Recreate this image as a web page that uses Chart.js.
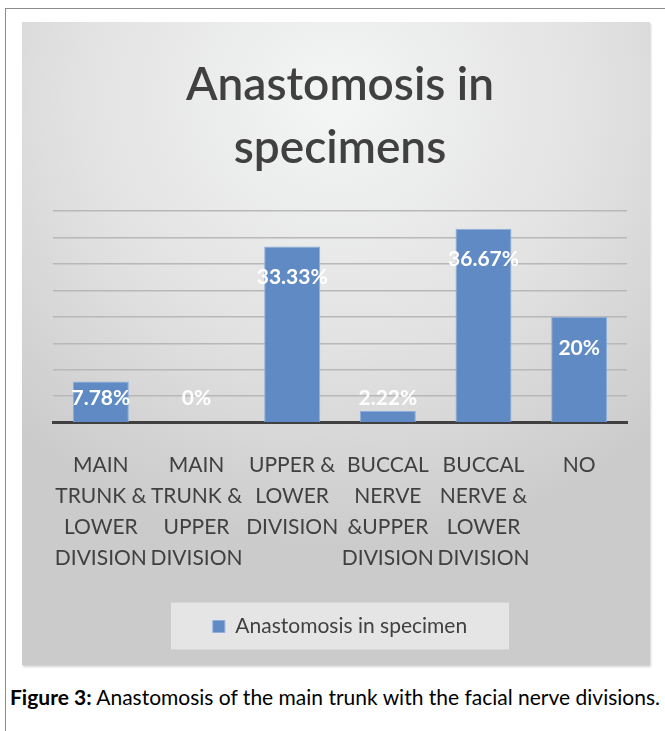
<!DOCTYPE html>
<html>
<head>
<meta charset="utf-8">
<script src="https://cdn.jsdelivr.net/npm/chart.js@4.4.1/dist/chart.umd.min.js"></script>
<style>
    body { margin: 0; background: #fff; width: 665px; height: 731px; overflow: hidden; position: relative; }
    .frame { position: absolute; left: 5px; top: 8px; width: 670px; height: 730px; border-top: 1px solid #8c8c8c; border-left: 1px solid #8c8c8c; }
    .panel {
        position: absolute; left: 22px; top: 22px; width: 628px; height: 643px;
        background: radial-gradient(ellipse 75% 70% at 50% 12%, #f4f5f5 0%, #e2e2e2 55%, #cbcbcb 100%);
        box-shadow: 1px 2px 2px rgba(0,0,0,0.18);
    }
    .caption { position: absolute; left: 10px; top: 684px; font-family: Lato, sans-serif; font-size: 21px; color: #000; white-space: nowrap; }
    .caption b { font-weight: 700; }
</style>
</head>
<body>
<div class="frame"></div>
<div class="panel"><canvas id="anastomosisChart"></canvas></div>
<div class="caption"><b>Figure 3:</b> Anastomosis of the main trunk with the facial nerve divisions.</div>

<script>
// Data
const categories = [
    ['MAIN', 'TRUNK &', 'LOWER', 'DIVISION'],
    ['MAIN', 'TRUNK &', 'UPPER', 'DIVISION'],
    ['UPPER &', 'LOWER', 'DIVISION'],
    ['BUCCAL', 'NERVE', '&UPPER', 'DIVISION'],
    ['BUCCAL', 'NERVE &', 'LOWER', 'DIVISION'],
    ['NO']
];
const percentages = [7.78, 0, 33.33, 2.22, 36.67, 20];
const valueLabels = ['7.78%', '0%', '33.33%', '2.22%', '36.67%', '20%'];
const seriesName = 'Anastomosis in specimen';
const titleLines = ['Anastomosis in', 'specimens'];

const textColor = '#404040';
const barColor = '#608ac3';

// White value labels near the top of each bar
const valueLabelPlugin = {
    id: 'valueLabels',
    afterDatasetsDraw(chart) {
        const ctx = chart.ctx;
        const meta = chart.getDatasetMeta(0);
        ctx.save();
        ctx.font = 'bold 21px Lato';
        ctx.fillStyle = '#ffffff';
        ctx.textAlign = 'center';
        ctx.textBaseline = 'middle';
        meta.data.forEach((bar, i) => {
            const y = Math.min(bar.y + 31, bar.base - 24);
            ctx.fillText(valueLabels[i], bar.x, y);
        });
        ctx.restore();
    }
};

// Light box behind the legend
const legendBoxPlugin = {
    id: 'legendBox',
    beforeDraw(chart) {
        const legend = chart.legend;
        if (!legend || !legend.legendHitBoxes.length) return;
        const hb = legend.legendHitBoxes[0];
        const cx = hb.left + hb.width / 2;
        const cy = hb.top + hb.height / 2;
        const ctx = chart.ctx;
        ctx.save();
        ctx.fillStyle = 'rgba(238, 238, 238, 0.75)';
        ctx.fillRect(cx - 169, cy - 24, 338, 47);
        ctx.restore();
    }
};

const ctx = document.getElementById('anastomosisChart').getContext('2d');
const chart = new Chart(ctx, {
    type: 'bar',
    data: {
        labels: categories,
        datasets: [{
            label: seriesName,
            data: percentages,
            backgroundColor: barColor,
            borderColor: '#8eaedb',
            borderWidth: 1,
            barPercentage: 0.585,
            categoryPercentage: 1
        }]
    },
    options: {
        responsive: true,
        maintainAspectRatio: false,
        animation: false,
        layout: {
            padding: { left: 31, right: 23, top: 0, bottom: 18 }
        },
        plugins: {
            title: {
                display: true,
                text: titleLines,
                color: textColor,
                font: { family: 'Lato', size: 46, weight: '600', lineHeight: 1.36 },
                padding: { top: 32, bottom: 32 }
            },
            legend: {
                position: 'bottom',
                labels: {
                    color: textColor,
                    boxWidth: 12,
                    boxHeight: 12,
                    padding: 10,
                    font: { family: 'Lato', size: 21 }
                }
            },
            tooltip: { enabled: false }
        },
        scales: {
            y: {
                min: 0,
                max: 40,
                ticks: { stepSize: 5, display: false },
                grid: { color: '#b8b8b8', lineWidth: 1.5, drawTicks: false },
                border: { display: false }
            },
            x: {
                grid: { display: false },
                border: { color: textColor, width: 3 },
                afterFit(scale) { scale.height += 13; },
                ticks: {
                    color: textColor,
                    maxRotation: 0,
                    autoSkip: false,
                    padding: 19,
                    font: { family: 'Lato', size: 21, lineHeight: 1.48 }
                }
            }
        }
    },
    plugins: [valueLabelPlugin, legendBoxPlugin]
});
</script>
</body>
</html>
